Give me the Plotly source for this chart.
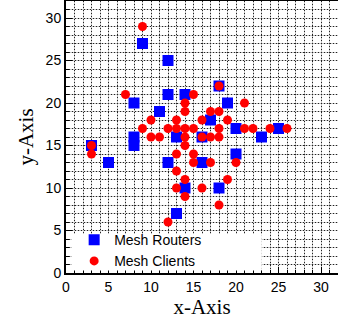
import plotly.graph_objects as go

# Mesh routers (blue squares)
routers_x = [9, 12, 3, 5, 8, 8, 8, 11, 12, 14, 13, 12, 14, 13, 18, 19, 17, 16, 20, 25, 23, 16, 20, 18]
routers_y = [27, 25, 15, 13, 20, 16, 15, 19, 21, 21, 16, 13, 10, 7, 22, 20, 18, 16, 17, 17, 16, 13, 14, 10]

# Mesh clients (red circles)
clients_x = [9, 7, 15, 14, 21, 14, 17, 18, 10, 13, 16, 19, 9, 12, 13, 14, 15, 18, 21, 22, 24, 26,
             10, 11, 14, 16, 17, 18, 3, 14, 3, 13, 15, 15, 17, 20, 13, 14, 19, 13, 16, 14, 18, 12, 18]
clients_y = [29, 21, 21, 20, 20, 19, 19, 19, 18, 18, 18, 18, 17, 17, 17, 17, 17, 17, 17, 17, 17, 17,
             16, 16, 16, 16, 16, 16, 15, 15, 14, 14, 14, 13, 13, 13, 12, 11, 11, 10, 10, 9, 8, 6, 22]

x_range = [0, 32]
y_range = [0, 32]

fig = go.Figure()
fig.add_trace(go.Scatter(x=routers_x, y=routers_y, mode="markers", name="Mesh Routers",
                         marker=dict(symbol="square", size=11, color="#0000ff", line=dict(width=0))))
fig.add_trace(go.Scatter(x=clients_x, y=clients_y, mode="markers", name="Mesh Clients",
                         marker=dict(symbol="circle", size=9, color="#ff0000", line=dict(width=0))))
# empty trace to host the overlay grid axes
fig.add_trace(go.Scatter(x=[None], y=[None], xaxis="x2", yaxis="y2", showlegend=False,
                         hoverinfo="skip", mode="markers"))

tick_font = dict(family="Liberation Sans, Arial, sans-serif", size=14, color="black")
title_font = dict(family="Liberation Serif, Times New Roman, serif", size=21, color="black")

axis_common = dict(
    showline=True, linecolor="black", linewidth=2, mirror=True,
    ticks="inside", ticklen=6, tickwidth=1, tickcolor="black",
    dtick=5, tick0=0,
    showgrid=True, gridcolor="#c4c4c4", gridwidth=1,
    minor=dict(dtick=1, ticks="inside", ticklen=3, tickcolor="black",
               showgrid=True, gridcolor="#c4c4c4", gridwidth=1),
    zeroline=False, tickfont=tick_font, automargin=False,
)

fig.update_layout(
    width=338, height=327,
    margin=dict(l=66, r=0, t=1, b=54),
    plot_bgcolor="white", paper_bgcolor="white",
    xaxis=dict(range=x_range, title=dict(text="x-Axis", font=title_font, standoff=4), **axis_common),
    yaxis=dict(range=y_range, title=dict(text="y-Axis", font=title_font, standoff=6), **axis_common),
    xaxis2=dict(range=x_range, overlaying="x", anchor="y2", dtick=1, tick0=0,
                showgrid=True, gridcolor="#222222", gridwidth=1, griddash="1px,2px",
                showticklabels=False, ticks="", zeroline=False, showline=False),
    yaxis2=dict(range=y_range, overlaying="y", anchor="x2", dtick=1, tick0=0,
                showgrid=True, gridcolor="#222222", gridwidth=1, griddash="1px,2px",
                showticklabels=False, ticks="", zeroline=False, showline=False),
    showlegend=True,
    legend=dict(x=0.03, y=-0.015, xanchor="left", yanchor="bottom",
                bgcolor="rgba(0,0,0,0)", borderwidth=0,
                font=dict(family="Liberation Sans, Arial, sans-serif", size=14, color="black"),
                itemsizing="trace", tracegroupgap=0),
    shapes=[dict(type="rect", xref="paper", yref="paper", x0=0.022, x1=0.72, y0=0.009, y1=0.143,
                 fillcolor="white", line=dict(width=0), layer="above")],
)

fig.write_html("out.html", config={"displayModeBar": False},
               post_script="document.body.style.margin='0px';")
